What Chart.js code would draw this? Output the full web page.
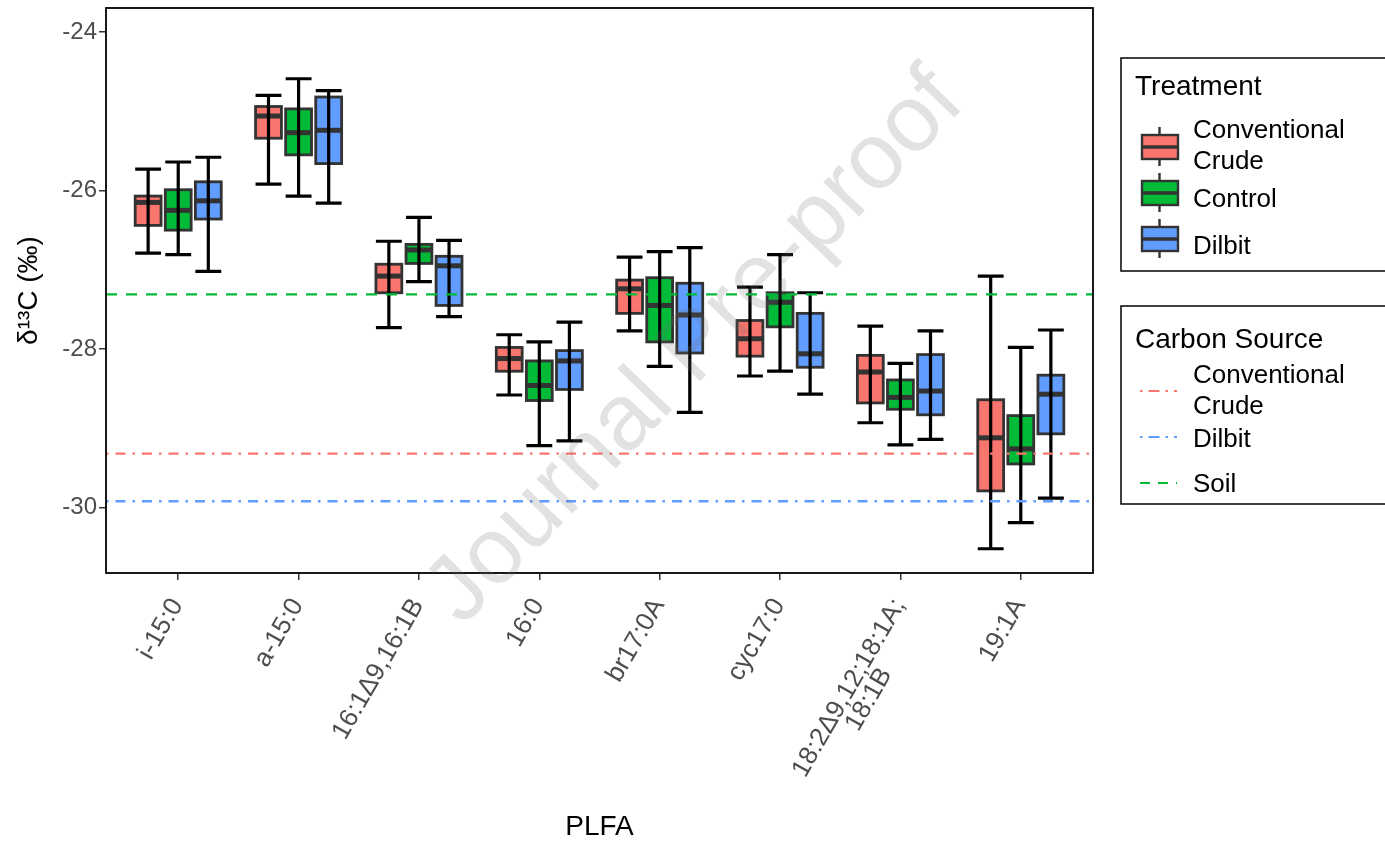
<!DOCTYPE html>
<html>
<head>
<meta charset="utf-8">
<script src="https://cdn.jsdelivr.net/npm/chart.js@4.4.0/dist/chart.umd.min.js"></script>
<style>
  html, body { margin: 0; padding: 0; background: #fff; }
  #wrap { position: relative; width: 1385px; height: 844px; }
</style>
</head>
<body>
<div id="wrap"><canvas id="plfaChart"></canvas></div>
<script>
const FONT = '"Liberation Sans", Arial, sans-serif';

const plfa = ["i-15:0", "a-15:0", "16:1Δ9,16:1B", "16:0", "br17:0A", "cyc17:0", ["18:2Δ9,12;18:1A;", "18:1B"], "19:1A"];
const yTicks = [-24, -26, -28, -30];

const treatments = ["Conventional Crude", "Control", "Dilbit"];
const treatmentColors = ["#F8766D", "#00BA38", "#619CFF"];

// five-number summaries (whisker low, Q1, median, Q3, whisker high), per PLFA
const crudeLow  = [-26.79, -25.92, -27.73, -28.58, -27.77, -28.34, -28.93, -30.52];
const crudeQ1   = [-26.44, -25.34, -27.29, -28.28, -27.55, -28.09, -28.68, -29.79];
const crudeMed  = [-26.15, -25.06, -27.08, -28.12, -27.24, -27.87, -28.29, -29.12];
const crudeQ3   = [-26.07, -24.94, -26.93, -27.98, -27.13, -27.64, -28.08, -28.64];
const crudeHigh = [-25.73, -24.80, -26.64, -27.82, -26.84, -27.22, -27.71, -27.08];

const controlLow  = [-26.81, -26.07, -27.15, -29.22, -28.22, -28.28, -29.21, -30.19];
const controlQ1   = [-26.50, -25.55, -26.92, -28.65, -27.91, -27.72, -28.76, -29.45];
const controlMed  = [-26.25, -25.27, -26.75, -28.46, -27.45, -27.41, -28.61, -29.26];
const controlQ3   = [-25.99, -24.97, -26.68, -28.15, -27.10, -27.29, -28.39, -28.84];
const controlHigh = [-25.64, -24.59, -26.34, -27.91, -26.77, -26.81, -28.18, -27.98];

const dilbitLow  = [-27.02, -26.16, -27.59, -29.16, -28.80, -28.57, -29.14, -29.88];
const dilbitQ1   = [-26.36, -25.66, -27.45, -28.51, -28.05, -28.23, -28.83, -29.07];
const dilbitMed  = [-26.13, -25.24, -26.95, -28.15, -27.57, -28.06, -28.53, -28.57];
const dilbitQ3   = [-25.89, -24.82, -26.83, -28.02, -27.17, -27.55, -28.07, -28.33];
const dilbitHigh = [-25.58, -24.74, -26.63, -27.66, -26.72, -27.29, -27.77, -27.76];

// carbon source end-member values
const sources = ["Conventional Crude", "Dilbit", "Soil"];
const sourceValues = [-29.32, -29.92, -27.31];
const sourceColors = ["#F8766D", "#619CFF", "#00BA38"];
const sourceDash = [[2.5, 7, 10, 7], [2.5, 7, 10, 7], [11, 9]];

const boxes = [
  { low: crudeLow, q1: crudeQ1, med: crudeMed, q3: crudeQ3, high: crudeHigh },
  { low: controlLow, q1: controlQ1, med: controlMed, q3: controlQ3, high: controlHigh },
  { low: dilbitLow, q1: dilbitQ1, med: dilbitMed, q3: dilbitQ3, high: dilbitHigh }
];

const X_MIN = -0.6, X_MAX = plfa.length - 1 + 0.6;

const boxDatasets = boxes.map((b, k) => ({
  type: 'bar',
  label: treatments[k],
  data: b.q1.map((v, i) => ({ x: i, y: [v, b.q3[i]] })),
  box: b,
  backgroundColor: treatmentColors[k],
  borderWidth: 0,
  borderSkipped: false,
  categoryPercentage: 0.75,
  barPercentage: 0.86,
  order: 1
}));

const lineDatasets = sources.map((s, k) => ({
  type: 'line',
  label: s,
  data: [{ x: X_MIN, y: sourceValues[k] }, { x: X_MAX, y: sourceValues[k] }],
  borderColor: sourceColors[k],
  borderWidth: 2.4,
  borderDash: sourceDash[k],
  pointRadius: 0,
  fill: false,
  order: 0
}));

// outline, median and whiskers of each box, drawn right after its dataset
const boxDetail = {
  id: 'boxDetail',
  afterDatasetDraw(chart, args) {
    const ds = chart.data.datasets[args.index];
    if (!ds.box) return;
    const ys = chart.scales.y, ctx = chart.ctx;
    ctx.save();
    args.meta.data.forEach((bar, i) => {
      const w = bar.width, x = bar.x;
      const top = ys.getPixelForValue(ds.box.q3[i]);
      const bot = ys.getPixelForValue(ds.box.q1[i]);
      ctx.strokeStyle = '#333333';
      ctx.lineWidth = 2.8;
      ctx.strokeRect(x - w / 2, top, w, bot - top);
      const ym = ys.getPixelForValue(ds.box.med[i]);
      ctx.lineWidth = 5;
      ctx.beginPath();
      ctx.moveTo(x - w / 2, ym);
      ctx.lineTo(x + w / 2, ym);
      ctx.stroke();
      const yl = ys.getPixelForValue(ds.box.low[i]);
      const yh = ys.getPixelForValue(ds.box.high[i]);
      const cap = w / 2;
      ctx.strokeStyle = '#000000';
      ctx.lineWidth = 3.2;
      ctx.beginPath();
      ctx.moveTo(x, yl); ctx.lineTo(x, yh);
      ctx.moveTo(x - cap, yh); ctx.lineTo(x + cap, yh);
      ctx.moveTo(x - cap, yl); ctx.lineTo(x + cap, yl);
      ctx.stroke();
    });
    ctx.restore();
  }
};

// panel border, x tick labels, legends and the watermark
const decorations = {
  id: 'decorations',
  afterDatasetsDraw(chart) {
    const { ctx, chartArea: a } = chart;
    ctx.save();
    ctx.strokeStyle = '#000';
    ctx.lineWidth = 1.8;
    ctx.strokeRect(a.left, a.top, a.right - a.left, a.bottom - a.top);
    ctx.restore();
  },
  afterDraw(chart) {
    const ctx = chart.ctx;
    const xs = chart.scales.x;

    // rotated PLFA labels
    ctx.save();
    ctx.font = `26px ${FONT}`;
    ctx.fillStyle = '#4D4D4D';
    ctx.textBaseline = 'middle';
    ctx.textAlign = 'right';
    plfa.forEach((lab, i) => {
      const lines = Array.isArray(lab) ? lab : [lab];
      const widths = lines.map(l => ctx.measureText(l).width);
      const wMax = Math.max(...widths);
      ctx.save();
      ctx.translate(xs.getPixelForValue(i) - 1, 601);
      ctx.rotate(-Math.PI / 3);
      lines.forEach((l, k) => ctx.fillText(l, -(wMax - widths[k]) / 2, k * 23));
      ctx.restore();
    });
    ctx.restore();

    // legend boxes
    ctx.save();
    ctx.strokeStyle = '#000';
    ctx.lineWidth = 1.5;
    ctx.strokeRect(1121, 58, 300, 213);
    ctx.strokeRect(1121, 306, 300, 198);
    ctx.fillStyle = '#000';
    ctx.textBaseline = 'alphabetic';
    ctx.textAlign = 'left';
    ctx.font = `28px ${FONT}`;
    ctx.fillText('Treatment', 1135, 95);
    ctx.fillText('Carbon Source', 1135, 348);

    const keyMid = [147, 193, 239];
    treatments.forEach((t, k) => {
      const cy = keyMid[k];
      ctx.strokeStyle = '#333333';
      ctx.lineWidth = 2.4;
      ctx.beginPath();
      ctx.moveTo(1159.5, cy - 20); ctx.lineTo(1159.5, cy + 19);
      ctx.stroke();
      ctx.fillStyle = treatmentColors[k];
      ctx.fillRect(1142, cy - 12, 36, 24);
      ctx.strokeRect(1142, cy - 12, 36, 24);
      ctx.lineWidth = 3.5;
      ctx.beginPath();
      ctx.moveTo(1142, cy); ctx.lineTo(1178, cy);
      ctx.stroke();
    });
    ctx.fillStyle = '#000';
    ctx.font = `26px ${FONT}`;
    ctx.fillText('Conventional', 1193, 138);
    ctx.fillText('Crude', 1193, 169);
    ctx.fillText(treatments[1], 1193, 207);
    ctx.fillText(treatments[2], 1193, 254);

    const lineY = [391, 437, 483];
    sources.forEach((s, k) => {
      ctx.strokeStyle = sourceColors[k];
      ctx.lineWidth = 2.2;
      ctx.setLineDash(k < 2 ? [2.5, 6, 11, 6] : [10, 8]);
      ctx.beginPath();
      ctx.moveTo(1140, lineY[k]); ctx.lineTo(1177, lineY[k]);
      ctx.stroke();
    });
    ctx.setLineDash([]);
    ctx.fillText('Conventional', 1193, 383);
    ctx.fillText('Crude', 1193, 414);
    ctx.fillText(sources[1], 1193, 447);
    ctx.fillText(sources[2], 1193, 492);
    ctx.restore();

    // watermark
    ctx.save();
    ctx.translate(696, 348);
    ctx.rotate(-46 * Math.PI / 180);
    ctx.font = `94px ${FONT}`;
    ctx.fillStyle = 'rgba(110,110,110,0.2)';
    ctx.textAlign = 'center';
    ctx.textBaseline = 'middle';
    ctx.fillText('Journal Pre-proof', 0, 0);
    ctx.restore();
  }
};

new Chart(document.getElementById('plfaChart'), {
  type: 'bar',
  data: { datasets: [...boxDatasets, ...lineDatasets] },
  options: {
    responsive: true,
    maintainAspectRatio: false,
    animation: false,
    events: [],
    layout: { padding: { left: 0, right: 292, top: 8, bottom: 0 } },
    plugins: { legend: { display: false }, tooltip: { enabled: false } },
    scales: {
      x: {
        type: 'linear',
        min: X_MIN,
        max: X_MAX,
        offset: false,
        afterBuildTicks: s => { s.ticks = plfa.map((_, i) => ({ value: i })); },
        afterFit: s => { s.height = 271; s.paddingLeft = 0; s.paddingRight = 0; },
        border: { display: false },
        grid: { offset: false, drawOnChartArea: false, drawTicks: true, tickLength: 7, color: '#333333', lineWidth: 1.5 },
        ticks: { display: false },
        title: { display: true, text: 'PLFA', color: '#000', font: { family: FONT, size: 28 }, padding: { top: 0, bottom: 0 } }
      },
      y: {
        min: -30.826,
        max: -23.697,
        afterBuildTicks: s => { s.ticks = yTicks.map(v => ({ value: v })); },
        afterFit: s => { s.width = 106; s.paddingTop = 0; s.paddingBottom = 0; },
        border: { display: false },
        grid: { drawOnChartArea: false, drawTicks: true, tickLength: 7, color: '#333333', lineWidth: 1.5 },
        ticks: { color: '#4D4D4D', font: { family: FONT, size: 24 }, padding: 2, callback: v => String(v) },
        title: { display: true, text: 'δ¹³C (‰)', color: '#000', font: { family: FONT, size: 28 }, padding: { top: 12, bottom: 0 } }
      }
    }
  },
  plugins: [boxDetail, decorations]
});
</script>
</body>
</html>
